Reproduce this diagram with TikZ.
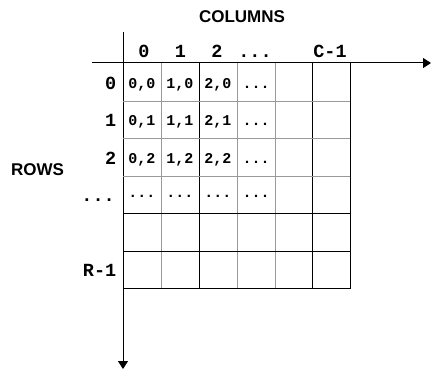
\documentclass[tikz,border=0pt]{standalone}
\usepackage{fontspec}
\setmainfont{Liberation Sans}
\newfontfamily\monofont{Liberation Mono}
\usetikzlibrary{arrows.meta}
\begin{document}
\begin{tikzpicture}[x=1pt,y=-1pt,
  title/.style={font=\fontsize{17}{17}\selectfont\bfseries},
  head/.style={font=\monofont\fontsize{18.5}{19}\selectfont\bfseries, anchor=base, inner sep=0pt},
  rowlab/.style={head, anchor=base east},
  cell/.style={font=\monofont\fontsize{15}{15}\selectfont\bfseries, anchor=base, inner sep=0pt},
  axis/.style={line width=1pt, -{Triangle[width=10pt,length=8pt]}},
  dark/.style={line width=1pt, black},
  light/.style={line width=1pt, black!40}]
  \useasboundingbox (0,0) rectangle (431,369);

  % axes
  \coordinate (xs) at (92,63);
  \coordinate (xe) at (431,63);
  \coordinate (ys) at (123,32);
  \coordinate (ye) at (123,369);
  \draw[axis] (xs) -- (xe);
  \draw[axis] (ys) -- (ye);

  % grid lines
  \foreach \x in {161,237,275} \draw[light] (\x,63) -- (\x,288.5);
  \foreach \x in {199,312.5,350} \draw[dark] (\x,63) -- (\x,288.5);
  \foreach \y in {101,138.5,176} \draw[light] (123,\y) -- (350,\y);
  \foreach \y in {213.5,251,288.5} \draw[dark] (123,\y) -- (350,\y);

  % titles
  \node[title] (coltitle) at (242,17) {COLUMNS};
  \node[title] (rowtitle) at (37.5,170) {ROWS};

  % column headers
  \node[head] (c0) at (144,57.5) {0};
  \node[head] (c1) at (180.5,57.5) {1};
  \node[head] (c2) at (217,57.5) {2};
  \node[head] (cd) at (255,57.5) {...};
  \node[head] (cl) at (330,57.5) {C-1};

  % row headers
  \node[rowlab] (r0) at (116.5,89) {0};
  \node[rowlab] (r1) at (116.5,126.5) {1};
  \node[rowlab] (r2) at (116.5,164) {2};
  \node[rowlab] (rd) at (115,201) {...};
  \node[rowlab] (rl) at (116.5,276.5) {R-1};

  % cell contents
  \foreach \r in {0,1,2} {
    \foreach \c/\cx in {0/142,1/180,2/218} {
      \node[cell] (e\c\r) at (\cx,88.5+37.3*\r) {\c,\r};
    }
    \node[cell] (ed\r) at (256,88.5+37.3*\r) {...};
  }
  \foreach \c/\cx in {0/142,1/180,2/218,3/256}
    \node[cell] (f\c) at (\cx,197) {...};
\end{tikzpicture}
\end{document}
